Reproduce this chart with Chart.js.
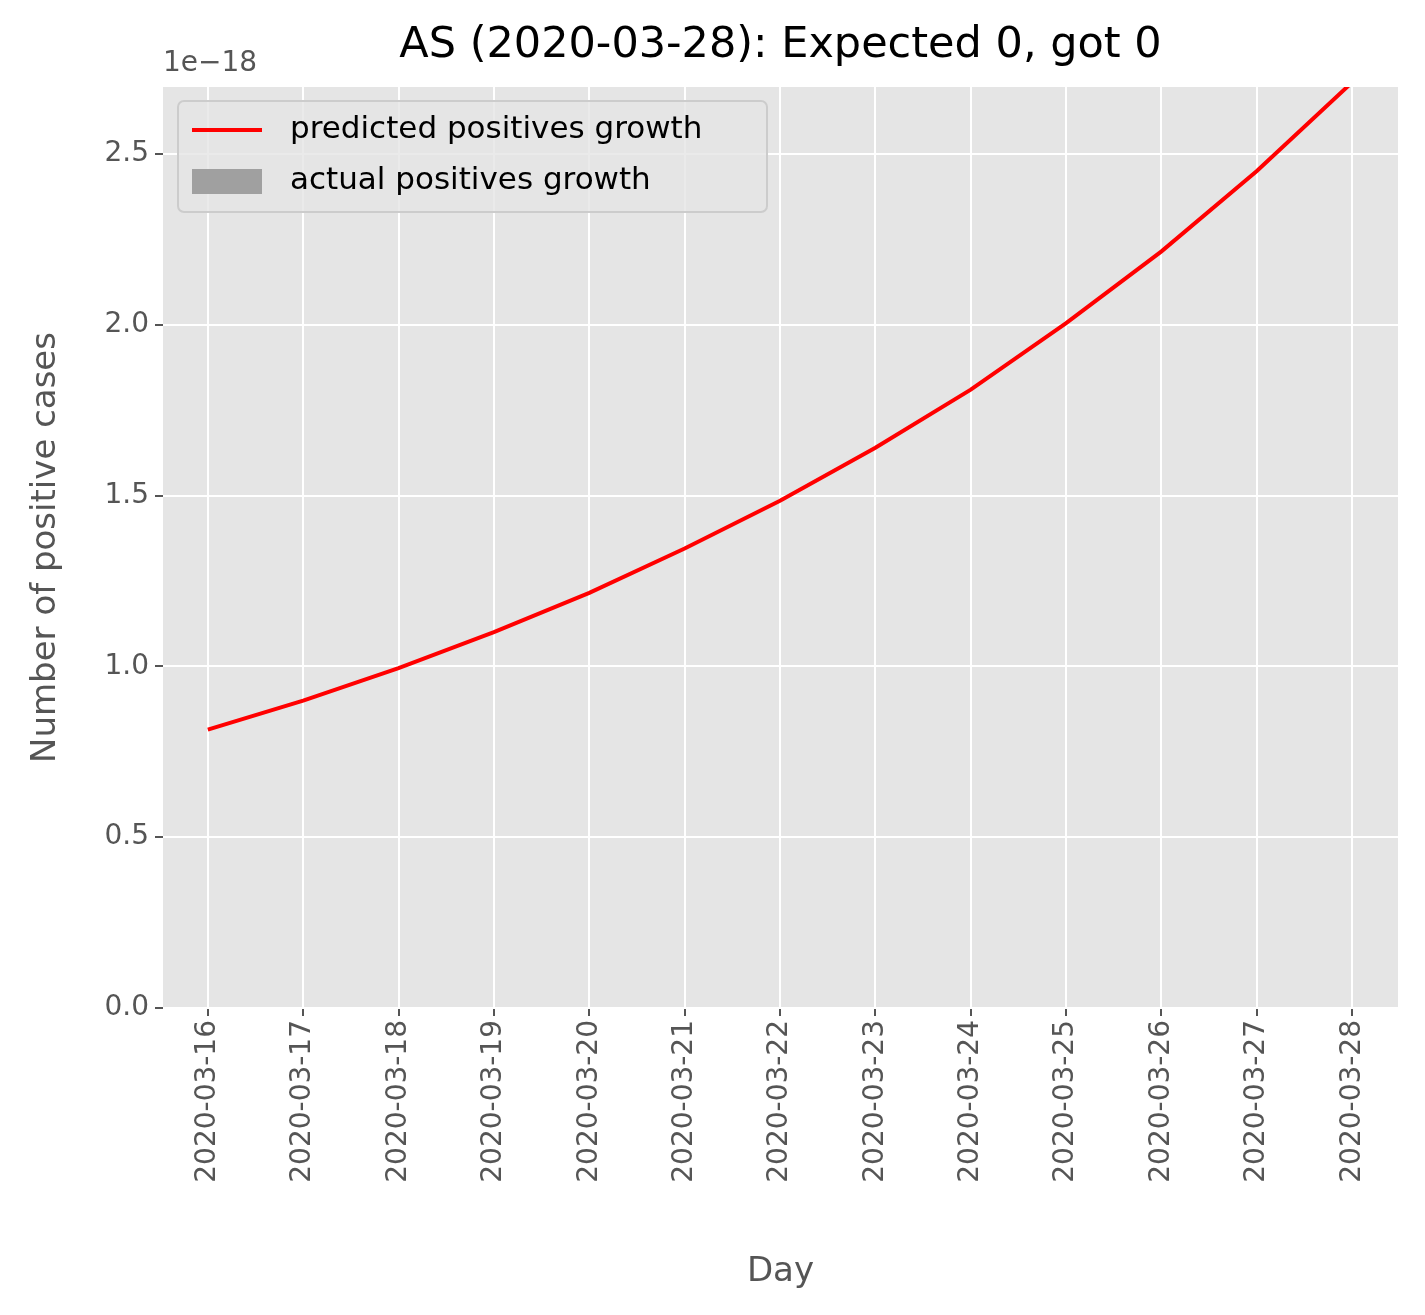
<!DOCTYPE html>
<html><head><meta charset="utf-8">
<script src="https://cdn.jsdelivr.net/npm/chart.js@4"></script>
<style>html,body{margin:0;padding:0;background:#fff}#w{width:1425px;height:1315px}</style>
</head><body><div id="w"><canvas id="c"></canvas></div>
<script>
const days=["2020-03-16","2020-03-17","2020-03-18","2020-03-19","2020-03-20","2020-03-21","2020-03-22","2020-03-23","2020-03-24","2020-03-25","2020-03-26","2020-03-27","2020-03-28"];
const predicted=[0.815,0.90,0.995,1.10,1.215,1.345,1.485,1.64,1.81,2.005,2.215,2.45,2.71]; // x 1e-18
const actual=[0,0,0,0,0,0,0,0,0,0,0,0,0];
const yTicks=[0,0.5,1.0,1.5,2.0,2.5];
const F='"DejaVu Sans"';
const deco={id:'deco',
 beforeDraw(ch){const a=ch.chartArea,c=ch.ctx;c.save();c.fillStyle='#e5e5e5';c.fillRect(a.left,a.top,a.right-a.left,a.bottom-a.top);c.restore();},
 afterDraw(ch){const c=ch.ctx,a=ch.chartArea;c.save();
  c.fillStyle='#000';c.font='43px '+F;c.textAlign='center';c.textBaseline='middle';
  c.fillText('AS (2020-03-28): Expected 0, got 0',(a.left+a.right)/2,46);
  c.fillStyle='#555';c.font='28px '+F;c.textAlign='left';c.fillText('1e\u221218',163,64);
  const x=178,y=101,w=589,h=111,r=6;
  c.beginPath();c.moveTo(x+r,y);c.arcTo(x+w,y,x+w,y+h,r);c.arcTo(x+w,y+h,x,y+h,r);c.arcTo(x,y+h,x,y,r);c.arcTo(x,y,x+w,y,r);c.closePath();
  c.fillStyle='rgba(229,229,229,0.8)';c.fill();c.strokeStyle='#cccccc';c.lineWidth=2;c.stroke();
  c.strokeStyle='#ff0000';c.lineWidth=4;c.beginPath();c.moveTo(192,130);c.lineTo(262,130);c.stroke();
  c.fillStyle='#a0a0a0';c.fillRect(192,169,70,25);
  c.fillStyle='#000';c.font='31px '+F;c.textAlign='left';c.textBaseline='middle';
  c.fillText('predicted positives growth',290,130);c.fillText('actual positives growth',290,181);
  c.restore();}};
new Chart(document.getElementById('c'),{
 data:{datasets:[
  {type:'bar',label:'actual positives growth',data:actual.map((v,i)=>({x:i,y:v})),backgroundColor:'#a0a0a0'},
  {type:'line',label:'predicted positives growth',data:predicted.map((v,i)=>({x:i,y:v})),borderColor:'#ff0000',borderWidth:4,pointRadius:0,tension:0}
 ]},
 options:{responsive:true,maintainAspectRatio:false,animation:false,
  layout:{padding:{top:87,right:27,bottom:22,left:0}},
  plugins:{legend:{display:false},title:{display:false},tooltip:{enabled:false}},
  scales:{
   x:{type:'linear',offset:false,min:-0.47,max:12.48,afterBuildTicks(s){s.ticks=days.map((d,i)=>({value:i}));},
    afterFit(s){s.height=285;},
    ticks:{callback:(v)=>days[v]??'',color:'#555',font:{family:F,size:28},maxRotation:90,minRotation:90,autoSkip:false,padding:4},
    grid:{offset:false,color:'#ffffff',lineWidth:2,tickColor:'#555',tickLength:8},border:{display:false},
    title:{display:true,text:'Day',color:'#555',font:{family:F,size:34},padding:0}},
   y:{min:0,max:2.696,afterBuildTicks(s){s.ticks=yTicks.map(v=>({value:v}));},
    afterFit(s){s.width=163;},
    ticks:{callback:(v)=>v.toFixed(1),color:'#555',font:{family:F,size:28},padding:6},
    grid:{color:'#ffffff',lineWidth:2,tickColor:'#555',tickLength:8},border:{display:false},
    title:{display:true,text:'Number of positive cases',color:'#555',font:{family:F,size:34},padding:{top:26,bottom:0}}}
  }},
 plugins:[deco]});
</script></body></html>
